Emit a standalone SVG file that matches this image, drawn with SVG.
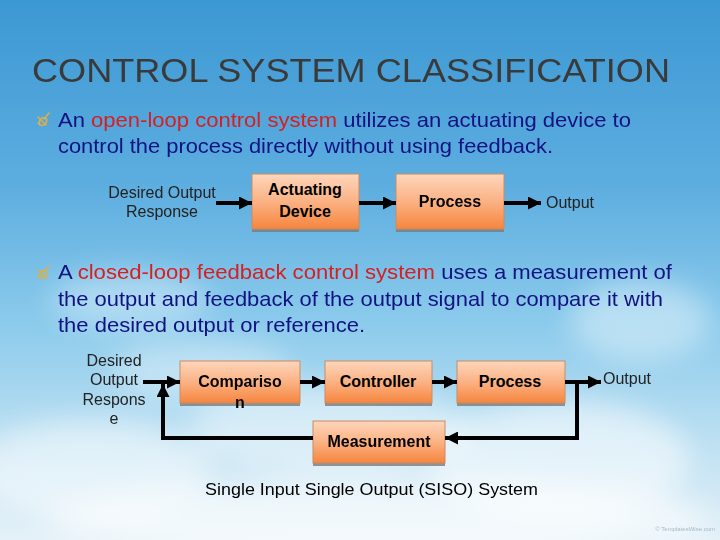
<svg xmlns="http://www.w3.org/2000/svg" width="720" height="540" viewBox="0 0 720 540">
<defs>
  <linearGradient id="bg" x1="0" y1="0" x2="0" y2="1">
    <stop offset="0" stop-color="#3c98d3"/>
    <stop offset="0.35" stop-color="#5eaee0"/>
    <stop offset="0.6" stop-color="#8ccbec"/>
    <stop offset="0.85" stop-color="#c4e3f3"/>
    <stop offset="1" stop-color="#e4f1f8"/>
  </linearGradient>
  <linearGradient id="box" x1="0" y1="0" x2="0" y2="1">
    <stop offset="0" stop-color="#fdd6bb"/>
    <stop offset="0.5" stop-color="#fbb284"/>
    <stop offset="1" stop-color="#f6853e"/>
  </linearGradient>
  <filter id="blur" x="-50%" y="-50%" width="200%" height="200%">
    <feGaussianBlur stdDeviation="14"/>
  </filter>
  <marker id="ah" viewBox="0 0 10 10" refX="10" refY="5" markerWidth="13" markerHeight="13" markerUnits="userSpaceOnUse" orient="auto">
    <path d="M0,0 L10,5 L0,10 Z" fill="#000"/>
  </marker>
  <style>
    .box { fill: url(#box); stroke: #c98c62; stroke-width: 1; }
    .shadow { fill: #7a7a7a; opacity: 0.8; }
    .bt { font-family: "Liberation Sans", Arial, sans-serif; font-size: 16px; font-weight: bold; fill: #000; text-anchor: middle; }
    .lbl { font-family: "Liberation Sans", Arial, sans-serif; font-size: 16px; fill: #222; text-anchor: middle; }
    .body { font-family: "Liberation Sans", Arial, sans-serif; font-size: 21px; fill: #121280; }
    .red { fill: #d81e1e; }
    .wire { fill: none; stroke: #000; stroke-width: 4; }
    .bullet { fill: none; stroke: #d9b04e; stroke-width: 1.6; stroke-linecap: round; }
  </style>
</defs>

<rect width="720" height="540" fill="url(#bg)"/>
<g filter="url(#blur)" fill="#ffffff">
  <ellipse cx="130" cy="300" rx="80" ry="28" opacity="0.35"/>
  <ellipse cx="640" cy="320" rx="70" ry="40" opacity="0.4"/>
  <ellipse cx="90" cy="470" rx="120" ry="50" opacity="0.5"/>
  <ellipse cx="330" cy="430" rx="140" ry="45" opacity="0.45"/>
  <ellipse cx="560" cy="460" rx="130" ry="60" opacity="0.55"/>
  <ellipse cx="380" cy="520" rx="330" ry="40" opacity="0.6"/>
  <ellipse cx="200" cy="370" rx="90" ry="30" opacity="0.35"/>
</g>

<text x="32" y="82" font-family="'Liberation Sans', Arial, sans-serif" font-size="34" fill="#3a3a3a" textLength="638" lengthAdjust="spacingAndGlyphs">CONTROL SYSTEM CLASSIFICATION</text>

<g id="bullet1">
  <path class="bullet" d="M38,117 L46,125 M40,125 C38,121 41,117 45,118 C48,119 47,124 43,125 C41,126 39,125 38,123 M44,119 L49,113"/>
  <text class="body" x="58" y="127" textLength="573" lengthAdjust="spacingAndGlyphs">An <tspan class="red">open-loop control system</tspan> utilizes an actuating device to</text>
  <text class="body" x="58" y="153" textLength="495" lengthAdjust="spacingAndGlyphs">control the process directly without using feedback.</text>
</g>

<g id="bullet2">
  <path class="bullet" d="M38,270 L46,278 M40,278 C38,274 41,270 45,271 C48,272 47,277 43,278 C41,279 39,278 38,276 M44,272 L49,266"/>
  <text class="body" x="58" y="279" textLength="614" lengthAdjust="spacingAndGlyphs">A <tspan class="red">closed-loop feedback control system</tspan> uses a measurement of</text>
  <text class="body" x="58" y="306" textLength="605" lengthAdjust="spacingAndGlyphs">the output and feedback of the output signal to compare it with</text>
  <text class="body" x="58" y="332" textLength="307" lengthAdjust="spacingAndGlyphs">the desired output or reference.</text>
</g>

<g id="ol-input">
  <text class="lbl" x="162" y="198">Desired Output</text>
  <text class="lbl" x="162" y="217">Response</text>
</g>
<g id="ol-actuating">
  <rect class="shadow" x="252" y="176" width="107" height="56"/>
  <rect class="box" x="252" y="174" width="107" height="55"/>
  <text class="bt" x="305" y="195">Actuating</text>
  <text class="bt" x="305" y="217">Device</text>
</g>
<g id="ol-process">
  <rect class="shadow" x="396" y="176" width="108" height="56"/>
  <rect class="box" x="396" y="174" width="108" height="55"/>
  <text class="bt" x="450" y="207">Process</text>
</g>
<g id="ol-output">
  <text class="lbl" x="570" y="208">Output</text>
</g>

<g id="cl-input">
  <text class="lbl" x="114" y="366">Desired</text>
  <text class="lbl" x="114" y="385">Output</text>
  <text class="lbl" x="114" y="405">Respons</text>
  <text class="lbl" x="114" y="424">e</text>
</g>
<g id="cl-comparison">
  <rect class="shadow" x="180" y="363" width="120" height="43"/>
  <rect class="box" x="180" y="361" width="120" height="42"/>
  <text class="bt" x="240" y="387">Compariso</text>
  <text class="bt" x="240" y="408">n</text>
</g>
<g id="cl-controller">
  <rect class="shadow" x="325" y="363" width="107" height="43"/>
  <rect class="box" x="325" y="361" width="107" height="42"/>
  <text class="bt" x="378" y="387">Controller</text>
</g>
<g id="cl-process">
  <rect class="shadow" x="457" y="363" width="108" height="43"/>
  <rect class="box" x="457" y="361" width="108" height="42"/>
  <text class="bt" x="510" y="387">Process</text>
</g>
<g id="cl-measurement">
  <rect class="shadow" x="313" y="423" width="132" height="43"/>
  <rect class="box" x="313" y="421" width="132" height="42"/>
  <text class="bt" x="379" y="447">Measurement</text>
</g>
<g id="cl-output">
  <text class="lbl" x="627" y="384">Output</text>
</g>

<g id="connectors">
  <line class="wire" x1="216" y1="203" x2="252" y2="203" marker-end="url(#ah)"/>
  <line class="wire" x1="359" y1="203" x2="396" y2="203" marker-end="url(#ah)"/>
  <line class="wire" x1="504" y1="203" x2="541" y2="203" marker-end="url(#ah)"/>
  <line class="wire" x1="143" y1="382" x2="180" y2="382" marker-end="url(#ah)"/>
  <line class="wire" x1="300" y1="382" x2="325" y2="382" marker-end="url(#ah)"/>
  <line class="wire" x1="432" y1="382" x2="457" y2="382" marker-end="url(#ah)"/>
  <line class="wire" x1="565" y1="382" x2="601" y2="382" marker-end="url(#ah)"/>
  <polyline class="wire" points="577,382 577,438 445,438" marker-end="url(#ah)"/>
  <polyline class="wire" points="313,438 163,438 163,384" marker-end="url(#ah)"/>
</g>

<text x="205" y="495" font-family="'Liberation Sans', Arial, sans-serif" font-size="17" fill="#000" textLength="333" lengthAdjust="spacingAndGlyphs">Single Input Single Output (SISO) System</text>
<text x="715" y="531" font-family="'Liberation Sans', Arial, sans-serif" font-size="6" fill="#a8b8c4" text-anchor="end">© TemplatesWise.com</text>
</svg>
